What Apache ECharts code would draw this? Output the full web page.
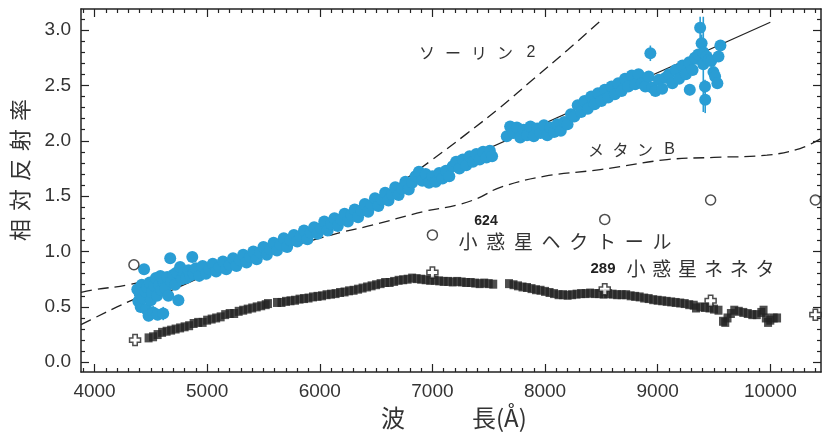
<!DOCTYPE html>
<html><head><meta charset="utf-8">
<script src="https://cdn.jsdelivr.net/npm/echarts@6/dist/echarts.min.js"></script>
<style>html,body{margin:0;padding:0;background:#fff}#c{width:823px;height:433px}</style>
</head><body><div id="c"></div>
<script>
// ---- tick labels ----
const xMajorTicks = [4000,5000,6000,7000,8000,9000,10000];
const yMajorTicks = [0.0,0.5,1.0,1.5,2.0,2.5,3.0];

// ---- 624 Hektor spectrum: [wavelength, reflectance, error] ----
const hektorSpectrum = [
[4380,0.66,0.06],[4390,0.55,0.05],[4400,0.62,0.08],[4410,0.50,0.05],[4420,0.70,0],[4430,0.58,0.05],[4440,0.84,0.04],[4450,0.64,0],[4460,0.48,0.05],[4465,0.68,0.05],
[4480,0.42,0.05],[4490,0.72,0.04],[4500,0.56,0],[4510,0.63,0.05],[4520,0.45,0.06],[4530,0.69,0],[4545,0.76,0.04],[4555,0.60,0],[4560,0.43,0.05],[4575,0.70,0.04],
[4585,0.78,0],[4595,0.65,0.04],[4610,0.44,0.06],[4615,0.72,0],[4630,0.67,0.04],[4645,0.77,0.04],[4655,0.60,0],[4672,0.94,0.04],[4680,0.73,0.04],[4700,0.79,0],
[4715,0.70,0.04],[4730,0.81,0],[4745,0.56,0.05],[4760,0.86,0.04],[4775,0.75,0],[4795,0.81,0.04],[4815,0.76,0],[4835,0.83,0.03],[4850,0.78,0],[4868,0.95,0.04],[4880,0.80,0],
[4900,0.85,0],[4930,0.78,0],[4960,0.87,0],[4990,0.80,0],[5020,0.84,0],[5050,0.89,0],[5080,0.82,0],[5110,0.86,0],[5140,0.91,0],[5170,0.84,0],
[5200,0.88,0],[5230,0.94,0],[5260,0.87,0],[5290,0.92,0],[5320,0.97,0],[5350,0.90,0],[5380,0.95,0],[5410,1.00,0],[5440,0.93,0],[5470,0.99,0],
[5500,1.04,0],[5530,0.97,0],[5560,1.02,0],[5590,1.08,0],[5620,1.01,0],[5650,1.06,0],[5680,1.12,0],[5710,1.04,0],[5740,1.10,0],[5770,1.15,0],
[5800,1.09,0],[5830,1.14,0],[5860,1.19,0],[5890,1.11,0],[5920,1.17,0],[5950,1.22,0],[5980,1.16,0],[6010,1.21,0],[6040,1.27,0],[6070,1.19,0],
[6100,1.25,0],[6130,1.30,0],[6160,1.23,0],[6190,1.29,0],[6220,1.34,0],[6250,1.27,0],[6280,1.33,0],[6310,1.38,0],[6340,1.31,0],[6370,1.37,0],
[6400,1.43,0],[6430,1.36,0],[6460,1.42,0],[6490,1.48,0],[6520,1.41,0],[6550,1.47,0],[6580,1.53,0],[6610,1.46,0],[6640,1.52,0],[6670,1.58,0],
[6700,1.51,0],[6730,1.57,0],[6760,1.63,0],[6790,1.56,0],[6820,1.62,0],[6850,1.68,0],[6880,1.72,0],[6910,1.64,0],[6940,1.70,0],[6970,1.62,0],
[7000,1.68,0],[7030,1.63,0],[7060,1.71,0],[7090,1.66,0],[7120,1.73,0],[7150,1.68,0],[7180,1.77,0],[7210,1.81,0],[7240,1.75,0],[7270,1.83,0],
[7300,1.78,0],[7330,1.86,0],[7360,1.81,0],[7390,1.88,0],[7420,1.83,0],[7450,1.90,0],[7480,1.85,0],[7510,1.91,0],[7530,1.86,0],
[7660,2.04,0],[7690,2.13,0],[7720,2.07,0],[7750,2.12,0],[7780,2.03,0],[7810,2.10,0],[7840,2.05,0],[7870,2.13,0],[7900,2.04,0],[7930,2.11,0],
[7960,2.07,0],[7990,2.14,0],[8020,2.05,0],[8050,2.12,0],[8080,2.08,0],[8110,2.15,0],[8140,2.09,0],[8170,2.17,0],[8200,2.15,0],[8230,2.24,0],
[8260,2.22,0],[8290,2.32,0],[8320,2.26,0],[8350,2.36,0],[8380,2.29,0],[8410,2.40,0],[8440,2.33,0],[8470,2.43,0],[8500,2.36,0],[8530,2.46,0],
[8560,2.39,0],[8590,2.49,0],[8620,2.42,0],[8650,2.52,0],[8680,2.45,0],[8710,2.56,0],[8740,2.49,0],[8770,2.59,0],[8800,2.51,0],[8830,2.60,0],
[8860,2.52,0],[8890,2.49,0],[8920,2.58,0],[8950,2.48,0],[8980,2.45,0],[9010,2.55,0],[9040,2.47,0],[9070,2.57,0],[9100,2.60,0],[9130,2.52,0],
[9160,2.64,0],[9190,2.56,0],[9220,2.68,0],[9250,2.60,0],[9280,2.71,0],[9310,2.64,0],[9340,2.74,0],
[8935,2.79,0.07],[9285,2.46,0.05],[9330,2.75,0],[9360,2.78,0],[9377,3.02,0.10],[9390,2.88,0.08],[9405,2.69,0.43],[9405,2.80,0.06],
[9420,2.49,0.06],[9422,2.37,0.12],[9435,2.76,0],[9455,2.73,0],[9475,2.72,0.05],[9495,2.62,0.05],[9510,2.58,0],[9530,2.52,0.05],
[9540,2.76,0],[9557,2.86,0.05]
];

// ---- 289 Nenetta spectrum: [wavelength, reflectance] ----
const nenettaSpectrum = [
[4480,0.22],[4520,0.23],[4560,0.25],[4600,0.27],[4640,0.28],[4680,0.29],[4720,0.30],[4760,0.31],[4800,0.32],[4840,0.33],
[4880,0.35],[4920,0.36],[4960,0.36],[5000,0.38],[5040,0.39],[5080,0.40],[5120,0.41],[5160,0.43],[5200,0.44],[5240,0.44],
[5280,0.46],[5320,0.47],[5360,0.48],[5400,0.49],[5440,0.50],[5480,0.51],[5520,0.52],[5540,0.53],
[5620,0.54],[5660,0.54],[5700,0.55],[5740,0.555],[5780,0.56],[5820,0.57],[5860,0.575],[5900,0.58],[5940,0.59],[5980,0.595],
[6020,0.60],[6060,0.61],[6100,0.615],[6140,0.62],[6180,0.63],[6220,0.635],[6260,0.645],[6300,0.65],[6340,0.66],[6380,0.67],
[6420,0.68],[6460,0.69],[6500,0.70],[6540,0.71],[6580,0.72],[6620,0.72],[6660,0.73],[6700,0.74],[6740,0.745],[6780,0.75],
[6820,0.76],[6860,0.755],[6900,0.75],[6940,0.745],[6980,0.74],[7020,0.74],[7060,0.735],[7100,0.73],[7140,0.73],[7180,0.725],
[7220,0.73],[7260,0.725],[7300,0.72],[7340,0.72],[7380,0.715],[7420,0.71],[7460,0.715],[7500,0.71],[7540,0.705],
[7680,0.71],[7720,0.70],[7760,0.69],[7800,0.68],[7840,0.675],[7880,0.665],[7920,0.655],[7960,0.65],[8000,0.64],[8040,0.63],
[8080,0.62],[8120,0.61],[8160,0.61],[8200,0.605],[8240,0.61],[8280,0.615],[8320,0.62],[8360,0.62],[8400,0.625],[8440,0.62],
[8480,0.62],[8520,0.615],[8560,0.62],[8600,0.615],[8640,0.61],[8680,0.61],[8720,0.61],[8760,0.60],[8800,0.595],[8840,0.59],
[8880,0.58],[8920,0.575],[8960,0.565],[9000,0.56],[9040,0.555],[9080,0.55],[9120,0.545],[9160,0.54],[9200,0.535],[9240,0.53],
[9280,0.52],[9320,0.515],[9340,0.49],[9380,0.50],[9420,0.495],[9460,0.49],[9500,0.48],[9540,0.47],[9580,0.37],[9600,0.36],
[9620,0.40],[9650,0.44],[9680,0.47],[9720,0.46],[9760,0.45],[9800,0.44],[9840,0.43],[9880,0.43],[9920,0.45],[9940,0.47],
[9960,0.40],[9980,0.36],[10000,0.38],[10030,0.40],[10060,0.40]
];

// ---- broadband points ----
const hektorBroadband  = [[4350,0.88],[7000,1.15],[8530,1.29],[9470,1.465],[10400,1.465]];
const nenettaBroadband = [[4360,0.20],[7000,0.81],[8530,0.66],[9470,0.555],[10400,0.43]];

// ---- model curves ----
const tholin2Curve = [[3880,0.34],[4000,0.40],[4200,0.50],[4400,0.59],[5000,0.84],[5500,1.03],[6000,1.23],[6500,1.47],[6700,1.61],[7000,1.83],[7300,2.06],[7600,2.30],[7900,2.56],[8200,2.82],[8490,3.08]];
const methaneBCurve = [[3880,0.63],[4000,0.655],[4300,0.70],[5000,0.86],[5600,1.01],[6181,1.17],[6475,1.24],[6918,1.36],[7219,1.42],[7400,1.48],[7603,1.58],[8000,1.68],[8490,1.74],[9083,1.83],[9500,1.85],[9970,1.87],[10264,1.93],[10450,2.02]];
const hektorFitLine = [[4400,0.52],[10000,3.07]];

// ---- texts ----
const yTitle = '相対反射率';
const xTitleA = '波', xTitleB = '長(Å)';
const tholinText = 'ソーリン2';
const methaneText = 'メタンB';
const hektorNum = '624', hektorName = '小惑星ヘクトール';
const nenettaNum = '289', nenettaName = '小惑星ネネタ';

const BLUE = '#2a9dd4';
const INK = '#222';
const CJK = '"Noto Sans CJK JP","Noto Sans CJK SC",sans-serif';
const LAT = '"Liberation Sans",Arial,Helvetica,sans-serif';

const range = (a,b,s)=>{const r=[];for(let v=a;v<=b+1e-9;v+=s)r.push(Math.round(v*1000)/1000);return r;};
const xMinorTicks = range(3900,10400,100).filter(v=>v%1000!==0);
const yMinorTicks = range(0,3.1,0.1).filter(v=>Math.abs(v*2-Math.round(v*2))>1e-6);

const XMIN=3880,XMAX=10450,YMIN=-0.088,YMAX=3.19;
function xAx(pos, major, showLine, showLabel){
  return {type:'value',min:XMIN,max:XMAX,position:pos,gridIndex:0,
    axisLine:{show:showLine,onZero:false,lineStyle:{color:INK,width:1.5}},
    axisTick:{show:true,inside:true,length:major?8:4,customValues:major?xMajorTicks:xMinorTicks,lineStyle:{color:INK,width:1.2}},
    axisLabel:{show:showLabel,customValues:xMajorTicks,margin:10,color:'#333',fontSize:19,fontFamily:LAT,formatter:v=>String(v)},
    splitLine:{show:false}};
}
function yAx(pos, major, showLine, showLabel){
  return {type:'value',min:YMIN,max:YMAX,position:pos,gridIndex:0,
    axisLine:{show:showLine,onZero:false,lineStyle:{color:INK,width:1.5}},
    axisTick:{show:true,inside:true,length:major?8:4,customValues:major?yMajorTicks:yMinorTicks,lineStyle:{color:INK,width:1.2}},
    axisLabel:{show:showLabel,customValues:yMajorTicks,margin:10,color:'#333',fontSize:19,fontFamily:LAT,formatter:v=>v.toFixed(1)},
    splitLine:{show:false}};
}

function spaced(str, x0, step, y, size, color){
  return Array.from(str).map((ch,i)=>({type:'text',x:x0+i*step,y:y,z:100,
    style:{text:ch,fill:color||'#333',font:size+'px '+(/[0-9A-Za-z]/.test(ch)?LAT:CJK),align:'center',verticalAlign:'middle'}}));
}

const graphics = [];
Array.from(yTitle).forEach((ch,i)=>graphics.push({type:'text',x:20,y:230-i*30,rotation:Math.PI/2,
  style:{text:ch,fill:'#333',font:'22px '+CJK,align:'center',verticalAlign:'middle'}}));
graphics.push({type:'text',x:393,y:418,style:{text:xTitleA,fill:'#333',font:'24px '+CJK,align:'center',verticalAlign:'middle'}});
graphics.push({type:'text',x:472,y:418,style:{text:xTitleB,fill:'#333',font:'24px '+CJK,align:'left',verticalAlign:'middle'}});
graphics.push(...spaced(tholinText,427,26,53,16,'#333'));
graphics.push(...spaced(methaneText,596,24.5,150,16,'#333'));
graphics.push({type:'text',x:486,y:221,style:{text:hektorNum,fill:'#222',font:'bold 14px '+LAT,align:'center',verticalAlign:'middle'}});
graphics.push(...spaced(hektorName,468,27.7,242,19,'#333'));
graphics.push({type:'text',x:603,y:269,style:{text:nenettaNum,fill:'#222',font:'bold 15px '+LAT,align:'center',verticalAlign:'middle'}});
graphics.push(...spaced(nenettaName,636,25.8,269,19,'#333'));

const chart = echarts.init(document.getElementById('c'),null,{renderer:'canvas'});
chart.setOption({
  animation:false,
  backgroundColor:'#fff',
  grid:{left:81,top:9,width:740,height:363},
  xAxis:[xAx('bottom',true,true,true),xAx('bottom',false,false,false),xAx('top',true,true,false),xAx('top',false,false,false)],
  yAxis:[yAx('left',true,true,true),yAx('left',false,false,false),yAx('right',true,true,false),yAx('right',false,false,false)],
  graphic:graphics,
  series:[
    {type:'line',data:tholin2Curve,smooth:0.4,symbol:'none',lineStyle:{color:INK,width:1.3,type:[11,6]},z:1},
    {type:'line',data:methaneBCurve,smooth:0.4,symbol:'none',lineStyle:{color:INK,width:1.3,type:[11,6]},z:1},
    {type:'line',data:hektorFitLine,symbol:'none',lineStyle:{color:INK,width:1.2},z:1},
    {type:'custom',z:2,data:hektorSpectrum.filter(p=>p[2]>0).map(p=>[p[0],p[1]-p[2],p[1]+p[2]]),
      renderItem:(params,api)=>{const a=api.coord([api.value(0),api.value(1)]),b=api.coord([api.value(0),api.value(2)]);
        return {type:'line',shape:{x1:a[0],y1:a[1],x2:b[0],y2:b[1]},style:{stroke:BLUE,lineWidth:1.6}};}},
    {type:'scatter',z:3,data:hektorSpectrum.map(p=>[p[0],p[1]]),symbol:'circle',symbolSize:12,itemStyle:{color:BLUE,opacity:1}},
    {type:'scatter',z:3,data:nenettaSpectrum,symbol:'rect',symbolSize:[8,9],itemStyle:{color:INK}},
    {type:'scatter',z:4,data:hektorBroadband,symbol:'circle',symbolSize:10,itemStyle:{color:'#fff',borderColor:INK,borderWidth:1.5}},
    {type:'scatter',z:4,data:nenettaBroadband,symbol:'path://M3,0H7V3H10V7H7V10H3V7H0V3H3Z',symbolSize:11,itemStyle:{color:'#fff',borderColor:INK,borderWidth:1.5}}
  ]
});
</script></body></html>
